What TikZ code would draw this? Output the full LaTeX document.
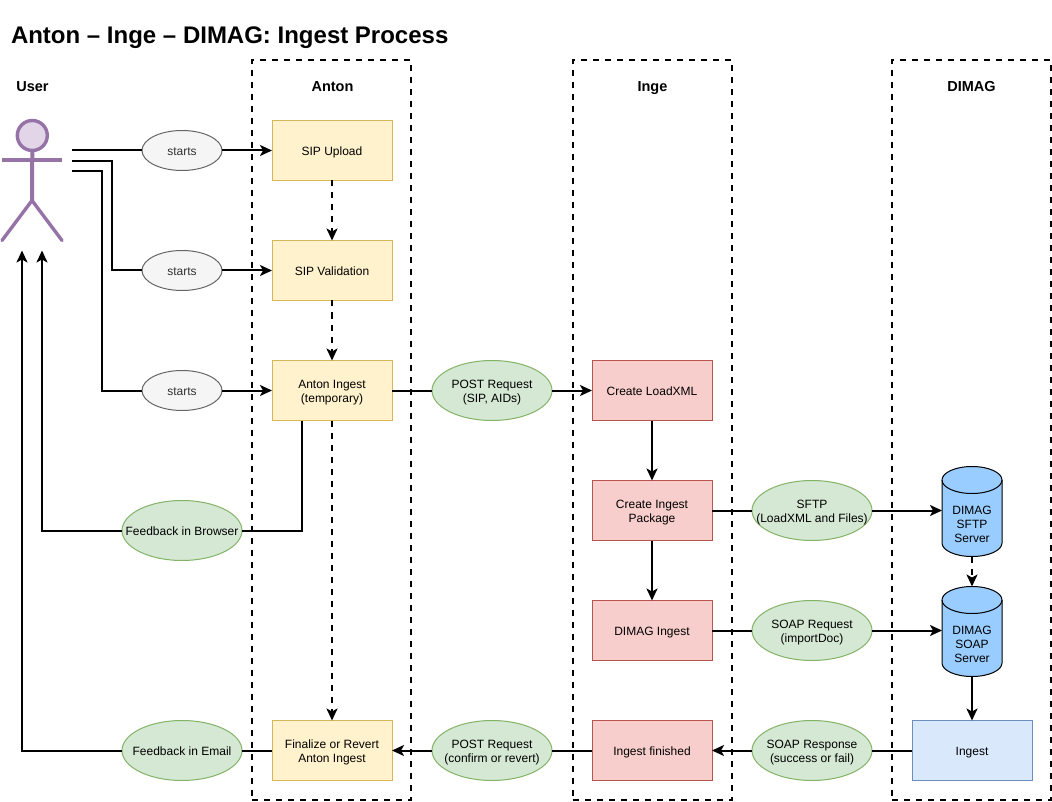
\documentclass[tikz,border=0pt]{standalone}
\usepackage{fontspec}
\setmainfont{Liberation Sans}
\usetikzlibrary{arrows.meta,shapes.geometric,calc}
\definecolor{yf}{HTML}{FFF2CC}\definecolor{yd}{HTML}{D6B656}
\definecolor{rf}{HTML}{F8CECC}\definecolor{rd}{HTML}{B85450}
\definecolor{gf}{HTML}{D5E8D4}\definecolor{gd}{HTML}{82B366}
\definecolor{sf}{HTML}{F5F5F5}\definecolor{sd}{HTML}{666666}
\definecolor{bf}{HTML}{DAE8FC}\definecolor{bd}{HTML}{6C8EBF}
\definecolor{pf}{HTML}{E1D5E7}\definecolor{pd}{HTML}{9673A6}
\definecolor{cf}{HTML}{99CCFF}
\newcommand{\lbl}[1]{\makebox[0pt][c]{\smash{\raisebox{-4.8pt}{\begin{tabular}{@{}c@{}}#1\end{tabular}}}}}
\newcommand{\cyldraw}[1]{%
  \draw[cylshape] ($(#1.north west)+(0,13.5)$) arc[start angle=180,end angle=0,x radius=30pt,y radius=13.5pt]
    -- ($(#1.south east)+(0,-13.5)$) arc[start angle=0,end angle=-180,x radius=30pt,y radius=13.5pt] -- cycle;
  \draw[cylshape,fill=none] ($(#1.north west)+(0,13.5)$) arc[start angle=180,end angle=360,x radius=30pt,y radius=13.5pt];
}
\tikzset{
  every node/.style={font=\fontsize{12}{14}\selectfont,inner sep=0pt,outer sep=0pt},
  lane/.style={draw=black,line width=2pt,dash pattern=on 6pt off 6pt,minimum width=159pt,minimum height=740pt},
  head/.style={font=\fontsize{14.5}{16}\selectfont\bfseries},
  box/.style={draw,line width=1pt,minimum width=120pt,minimum height=60pt},
  ybox/.style={box,fill=yf,draw=yd},
  rbox/.style={box,fill=rf,draw=rd},
  bbox/.style={box,fill=bf,draw=bd},
  gell/.style={ellipse,draw=gd,fill=gf,line width=1pt,minimum width=120pt,minimum height=60pt},
  sell/.style={ellipse,draw=sd,fill=sf,text=black!80,line width=1pt,minimum width=80pt,minimum height=40pt},
  cylbase/.style={minimum width=60pt,minimum height=90pt},
  cylshape/.style={draw=black,fill=cf,line width=1pt},
  line/.style={draw=black,line width=2pt},
  arr/.style={line,-{Stealth[length=12pt,width=11pt,inset=3pt]}},
  darr/.style={arr,dash pattern=on 6pt off 6pt},
  actor/.style={draw=pd,line width=4pt,line cap=round},
}
\begin{document}
\begin{tikzpicture}[x=1pt,y=-1pt]
\useasboundingbox (0,0) rectangle (1052,802);
\fill[white] (0,0) rectangle (1052,802);
\begin{scope}[shift={(0,0.5)}]
% lanes
\node[lane] (laneA) at (331.6,429.5) {};
\node[lane] (laneI) at (652.7,429.5) {};
\node[lane] (laneD) at (971.7,429.5) {};
% title and heads
\node[anchor=west,font=\fontsize{24}{28}\selectfont\bfseries] (title) at (11,37.5) {Anton – Inge – DIMAG: Ingest Process};
\node[head] (hUser) at (32.5,86.5) {User};
\node[head] (hAnton) at (332.5,86.5) {Anton};
\node[head] (hInge) at (652.5,87.5) {Inge};
\node[head] (hDimag) at (971.5,86.5) {DIMAG};
% actor
\node[circle,draw=pd,fill=pf,line width=3.4pt,minimum size=30pt] (uhead) at (32.3,135) {};
\coordinate (uhip) at (32,200);
\coordinate (ularm) at (2,160);
\coordinate (urarm) at (62,160);
\coordinate (ullegt) at (2,240);
\coordinate (urlegt) at (62,240);
\draw[actor,line cap=butt] (uhead.south) -- (uhip);
\draw[actor,line cap=butt] (ularm) -- (urarm);
\draw[actor,line width=3.4pt] (ullegt) -- (uhip) -- (urlegt);
% boxes
\node[ybox] (up) at (332,150) {\lbl{SIP Upload}};
\node[ybox] (val) at (332,270) {\lbl{SIP Validation}};
\node[ybox] (ai) at (332,390) {\lbl{Anton Ingest\\(temporary)}};
\node[ybox] (fin) at (332,750) {\lbl{Finalize or Revert\\Anton Ingest}};
\node[rbox] (cl) at (652,390) {\lbl{Create LoadXML}};
\node[rbox] (cp) at (652,510) {\lbl{Create Ingest\\Package}};
\node[rbox] (di) at (652,630) {\lbl{DIMAG Ingest}};
\node[rbox] (ifin) at (652,750) {\lbl{Ingest finished}};
\node[bbox] (ing) at (972,750) {\lbl{Ingest}};
\node[cylbase] (sftp) at (972,511) {};
\cyldraw{sftp}
\node (sftpt) at (972,523) {\lbl{DIMAG\\SFTP\\Server}};
\node[cylbase] (soap) at (972,631) {};
\cyldraw{soap}
\node (soapt) at (972,643) {\lbl{DIMAG\\SOAP\\Server}};
% ellipses
\node[sell] (e1) at (182,150) {\lbl{starts}};
\node[sell] (e2) at (182,270) {\lbl{starts}};
\node[sell] (e3) at (182,390) {\lbl{starts}};
\node[gell] (fb) at (182,530) {\lbl{Feedback in Browser}};
\node[gell] (fe) at (182,750) {\lbl{Feedback in Email}};
\node[gell] (p1) at (492,390) {\lbl{POST Request\\(SIP, AIDs)}};
\node[gell] (p2) at (492,750) {\lbl{POST Request\\(confirm or revert)}};
\node[gell] (sf) at (812,510) {\lbl{SFTP\\(LoadXML and Files)}};
\node[gell] (sr) at (812,630) {\lbl{SOAP Request\\(importDoc)}};
\node[gell] (sp) at (812,750) {\lbl{SOAP Response\\(success or fail)}};
% free ends
\coordinate (s1) at (72,150);
\coordinate (s2) at (72,161);
\coordinate (s3) at (72,171);
\coordinate (u1) at (22,250);
\coordinate (u2) at (42,250);
\coordinate (aibl) at (302,420);
% connectors
\draw[line] (s1) -- (e1.west);
\draw[arr] (e1.east) -- (up.west);
\draw[line] (s2) -- (112,161) |- (e2.west);
\draw[arr] (e2.east) -- (val.west);
\draw[line] (s3) -- (102,171) |- (e3.west);
\draw[arr] (e3.east) -- (ai.west);
\draw[darr] (up.south) -- (val.north);
\draw[darr] (val.south) -- (ai.north);
\draw[darr] (ai.south) -- (fin.north);
\draw[line] (aibl) |- (fb.east);
\draw[arr] (fb.west) -| (u2);
\draw[line] (fin.west) -- (fe.east);
\draw[arr] (fe.west) -| (u1);
\draw[line] (ai.east) -- (p1.west);
\draw[arr] (p1.east) -- (cl.west);
\draw[arr] (cl.south) -- (cp.north);
\draw[arr] (cp.south) -- (di.north);
\draw[line] (cp.east) -- (sf.west);
\draw[arr] (sf.east) -- (sf.east -| sftp.west);
\draw[line] (di.east) -- (sr.west);
\draw[arr] (sr.east) -- (sr.east -| soap.west);
\draw[darr] (sftp.south) -- (soap.north);
\draw[arr] (soap.south) -- (ing.north);
\draw[line] (ing.west) -- (sp.east);
\draw[arr] (sp.west) -- (ifin.east);
\draw[line] (ifin.west) -- (p2.east);
\draw[arr] (p2.west) -- (fin.east);
\end{scope}
\end{tikzpicture}
\end{document}
